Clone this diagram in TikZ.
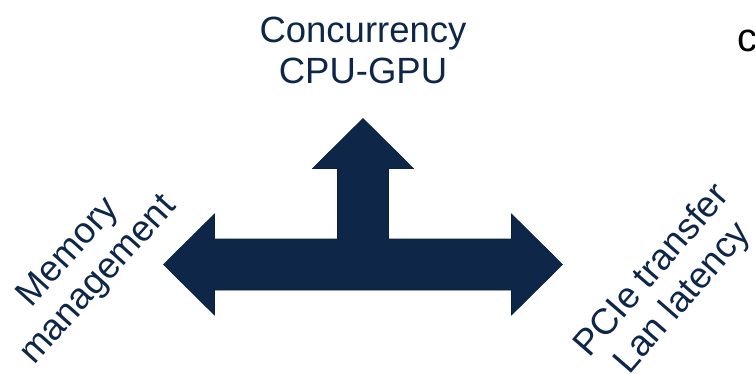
\documentclass[tikz,border=0pt]{standalone}
\usepackage{fontspec}
\setmainfont{Liberation Sans}
\usetikzlibrary{calc}

\definecolor{navy}{RGB}{14,39,73}

\begin{document}
\begin{tikzpicture}[x=1pt, y=1pt,
	lbl/.style={text=navy, align=center, inner sep=0pt, font=\fontsize{36.5}{41}\selectfont}]

	\useasboundingbox (0,0) rectangle (755,373);
	\clip (0,0) rectangle (755,373);

	\coordinate (c) at (363,108.5);

	% three-way arrow
	\fill[navy, draw=navy!80!black, line width=0.6pt]
		($(c)+(-199.5,0)$) -- ($(c)+(-148.5,50.5)$) -- ($(c)+(-148.5,25.5)$)
		-- ($(c)+(-25.5,25.5)$) -- ($(c)+(-25.5,96)$) -- ($(c)+(-50.5,96)$)
		-- ($(c)+(0,146)$)
		-- ($(c)+(50.5,96)$) -- ($(c)+(25.5,96)$) -- ($(c)+(25.5,25.5)$)
		-- ($(c)+(148.5,25.5)$) -- ($(c)+(148.5,50.5)$) -- ($(c)+(199.5,0)$)
		-- ($(c)+(148.5,-50.5)$) -- ($(c)+(148.5,-25.5)$)
		-- ($(c)+(-148.5,-25.5)$) -- ($(c)+(-148.5,-50.5)$) -- cycle;

	\node[lbl] (conc) at (363,323) {Concurrency\\CPU-GPU};
	\node[lbl, rotate=48] (mem) at (84,106) {Memory\\management};
	\node[lbl, rotate=49] (pcie) at (668,88) {PCIe transfer\\Lan latency};

	\node[anchor=base, inner sep=0pt, font=\fontsize{40}{44}\selectfont] (cut) at (747,321) {c};

\end{tikzpicture}
\end{document}
